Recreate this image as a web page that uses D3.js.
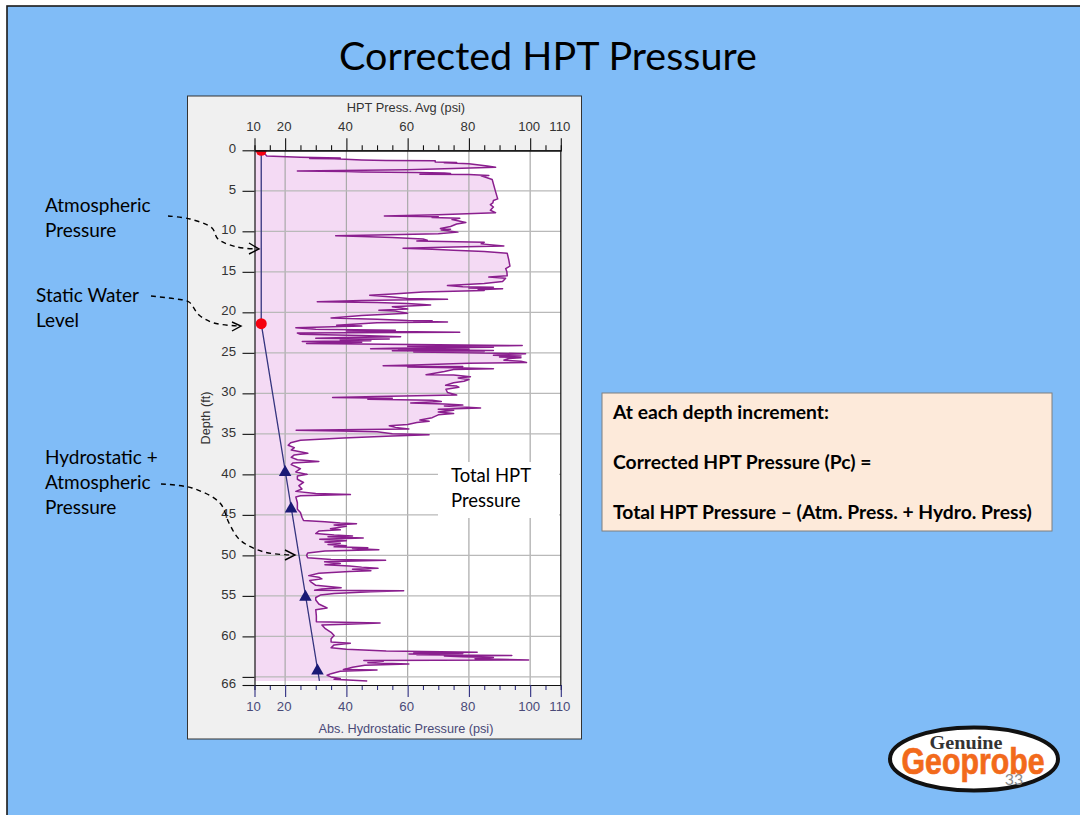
<!DOCTYPE html>
<html><head><meta charset="utf-8">
<script src="https://cdn.jsdelivr.net/npm/d3@7"></script>
<style>html,body{margin:0;padding:0;background:#fff}svg{display:block}</style>
</head><body><svg id="c" width="1080" height="815"></svg>
<script>
// [depth ft, HPT pressure psi]
const hptReadings=[[0,13],[0.5,13.5],[0.7,14],[0.85,25],[0.95,38],[1.02,28],[1.05,36],[1.2,45],[1.27,53],[1.3,69],[1.45,69],[1.5,76],[1.55,72],[1.65,80],[1.75,82],[1.95,86],[2.1,88.7],[2.25,75],[2.4,60],[2.55,24],[2.62,40],[2.68,45],[2.75,63],[2.8,72],[2.87,74],[2.95,64],[3.0,80],[3.1,86.5],[3.15,84],[3.6,87.6],[5.1,88.7],[6,89.4],[6.2,88],[6.5,87.8],[6.7,87],[7,88],[7.4,87],[7.7,88.7],[7.95,70],[8.1,52.4],[8.2,70],[8.3,68],[8.4,77],[8.55,74.5],[8.9,79],[9.1,76],[9.4,74],[9.65,70.7],[9.75,74],[9.85,71],[10.1,76.4],[10.3,70],[10.45,50],[10.55,36.5],[10.65,45],[10.75,55],[10.95,65],[11.1,66.4],[11.2,63],[11.35,85],[11.55,84],[11.8,91.4],[11.95,75],[12.1,58.5],[12.2,68],[12.35,75],[12.5,85],[12.7,92.5],[13.5,93],[14.3,93.4],[14.6,92],[15.0,92.4],[15.5,92.5],[15.65,86.5],[15.8,92],[16.2,91],[16.45,85],[16.7,73],[16.85,78],[16.9,88],[17.0,80],[17.1,91],[17.2,83],[17.3,85],[17.5,65],[17.75,55],[17.9,47.6],[18.1,55],[18.3,60],[18.4,73],[18.55,45],[18.7,30.5],[18.8,50],[18.9,60],[19.1,67.5],[19.3,55],[19.6,60],[19.75,50.6],[19.85,56],[20.1,60],[20.4,45],[20.7,35],[20.85,50],[21.0,60],[21.05,68],[21.1,62],[21.2,73],[21.3,50],[21.6,36.8],[21.7,45],[21.9,23.5],[22.1,30],[22.2,56],[22.3,40],[22.45,77],[22.55,24],[22.7,25],[22.85,45],[23.0,57.7],[23.1,40],[23.2,30],[23.25,45],[23.3,54],[23.4,38],[23.5,48],[23.6,25.6],[23.7,45],[23.85,27],[24.0,70],[24.1,97.4],[24.2,60],[24.3,88],[24.42,55],[24.5,47.9],[24.55,80],[24.6,57],[24.7,88],[24.75,55],[24.82,85],[24.9,62],[24.95,75],[25.1,98.5],[25.2,92],[25.3,88],[25.4,97],[25.5,90],[25.6,97],[25.7,93],[25.9,91.4],[26.05,97],[26.2,98.8],[26.3,80],[26.5,62],[26.6,52],[26.68,78],[26.75,60],[26.85,75],[26.95,88],[27.05,75],[27.3,72],[27.7,66],[27.75,75],[27.95,80.5],[28.1,76.5],[28.3,80],[28.5,78.4],[28.7,75],[29,72.4],[29.1,76],[29.25,76.7],[29.5,72.5],[29.9,73],[30.2,76],[30.4,50],[30.5,35.5],[30.6,55],[30.72,47],[30.85,68],[31.0,71],[31.2,61],[31.3,72],[31.45,78],[31.55,72],[31.8,83.8],[31.95,70],[32.1,75],[32.3,70],[32.5,75],[32.65,70],[33.0,68],[33.3,64],[33.45,67],[33.6,63],[33.85,60],[34.0,54],[34.2,56],[34.4,60.4],[34.55,23.6],[34.65,38],[34.75,50],[35.0,55],[35.1,67],[35.25,55],[35.5,39],[35.8,25],[36.1,21.8],[36.4,21],[36.7,23],[37.0,22],[37.4,27.4],[37.6,23],[37.9,22],[38.2,24],[38.4,31],[38.6,22.5],[38.8,22],[39.3,25],[39.7,23.5],[40,27.2],[40.2,24],[40.6,24],[41,26],[41.4,24.5],[41.8,25.5],[42.1,23.5],[42.35,30],[42.5,41.3],[42.65,25],[42.8,23.5],[43.5,24],[44.3,24],[44.7,25],[45.3,25.5],[45.7,26],[45.85,33],[46.0,38],[46.1,43.3],[46.25,36],[46.4,40],[46.7,34.8],[46.85,38],[47.0,31],[47.3,30],[47.5,36],[47.6,42],[47.7,34],[47.85,45.5],[48.0,31.3],[48.2,40],[48.35,33],[48.5,38],[48.65,34],[48.8,40],[48.95,36],[49.05,47],[49.15,42],[49.3,50.6],[49.45,33],[49.7,27.4],[50,27],[50.3,27.4],[50.5,35],[50.6,52.8],[50.8,32.9],[51,38],[51.15,33],[51.3,41],[51.45,45],[51.6,50.3],[51.72,42],[51.9,48],[52,41],[52.2,31],[52.5,27.7],[52.7,31],[52.9,32],[53.1,28],[53.3,28.5],[53.7,30],[54,38.3],[54.15,32],[54.3,29.6],[54.38,58.7],[54.5,48],[54.7,36],[54.9,31.5],[55.2,30],[55.5,30],[56,31],[56.5,33.7],[56.7,30],[57.5,30.2],[58.2,30.2],[58.35,51],[58.5,40],[58.6,32],[59,33],[59.5,35],[59.9,36],[60.3,35],[60.7,35],[60.85,41.3],[61.05,36],[61.4,35],[61.6,40],[61.8,53],[61.95,82.7],[62.05,62],[62.12,78],[62.18,60.4],[62.23,76],[62.28,63],[62.35,94],[62.42,72],[62.5,78],[62.6,88],[62.75,82],[62.9,99.5],[62.97,45.7],[63.08,52],[63.25,47],[63.4,60.4],[63.55,46],[63.8,42],[64.1,39],[64.15,50],[64.3,38],[64.6,35],[64.8,33.7],[65,35],[65.2,38],[65.3,36],[65.5,46.8]];
const gaugeDepths=[0,21.4,65.5];
const gaugePsi=[12.2,12.2,31.2];
const staticDepths=[0,21.4];
const triangleDepths=[39.5,44,54.9,64];
const majorTicks=[10,20,40,60,80,100,110];
const minorTicks=[15,25,30,35,45,50,55,65,70,75,85,90,95,105];
const depthTicks=[0,5,10,15,20,25,30,35,40,45,50,55,60,65,66];
const depthLabels=[0,5,10,15,20,25,30,35,40,45,50,55,60,66];
const gridPsi=[20,40,60,80,100];
const gridDepth=[5,10,15,20,25,30,35,40,45,50,55,60,65];

const svg=d3.select("#c");
const x=d3.scaleLinear().domain([10,110]).range([254.5,560.8]);
const y=d3.scaleLinear().domain([0,66]).range([150.3,685]);
const slideFont="Lato, 'Open Sans', sans-serif", chartFont="'Liberation Sans', Arial, sans-serif";

// slide
svg.append("rect").attr("width",1080).attr("height",815).attr("fill","#fff");
svg.append("rect").attr("x",7).attr("y",6).attr("width",1080).attr("height",815).attr("fill","#80bcf7").attr("stroke","#1a1a1a").attr("stroke-width",1.6);
svg.append("text").attr("x",548).attr("y",70).attr("text-anchor","middle").attr("font-family",slideFont).attr("font-size",39.5).attr("fill","#000").text("Corrected HPT Pressure");

// panel
svg.append("rect").attr("x",187.5).attr("y",96).attr("width",394).attr("height",643).attr("fill","#f0f0f0").attr("stroke","#333");
svg.append("rect").attr("x",x(10)).attr("y",y(0)).attr("width",x(110)-x(10)).attr("height",y(66)-y(0)).attr("fill","#fff");
svg.append("clipPath").attr("id","plot").append("rect").attr("x",x(10)).attr("y",y(0)).attr("width",x(110)-x(10)).attr("height",y(66)-y(0));
const plot=svg.append("g").attr("clip-path","url(#plot)");

// fill
plot.append("path").datum(hptReadings).attr("fill","#f4daf4")
 .attr("d",d3.area().x0(x(10)).x1(d=>x(d[1])).y(d=>y(d[0])));
// grid
plot.selectAll(".gv").data(gridPsi).join("line").attr("x1",d=>x(d)).attr("x2",d=>x(d)).attr("y1",y(0)).attr("y2",y(66)).attr("stroke","#a9a9a9").attr("stroke-width",1.2);
plot.selectAll(".gh").data(gridDepth).join("line").attr("x1",x(10)).attr("x2",x(110)).attr("y1",d=>y(d)).attr("y2",d=>y(d)).attr("stroke","#b9b9b9").attr("stroke-width",1.3);
// curve
plot.append("path").datum(hptReadings).attr("fill","none").attr("stroke","#8a1f8e").attr("stroke-width",1.5).attr("stroke-linejoin","round")
 .attr("d",d3.line().x(d=>x(d[1])).y(d=>y(d[0])));
// hydrostatic line
plot.append("path").datum(gaugeDepths).attr("fill","none").attr("stroke","#35357f").attr("stroke-width",1.3)
 .attr("d",d3.line().x((d,i)=>x(gaugePsi[i])).y(d=>y(d)));
const psiAt=d3.scaleLinear().domain(gaugeDepths.slice(1)).range(gaugePsi.slice(1));
plot.selectAll(".tri").data(triangleDepths).join("path").attr("fill","#1a1a75")
 .attr("d",d3.symbol(d3.symbolTriangle,68)).attr("transform",d=>`translate(${x(psiAt(d))},${y(d)+2})`);
plot.selectAll(".dot").data(staticDepths).join("circle").attr("cx",x(gaugePsi[0])).attr("cy",d=>y(d)).attr("r",5.5).attr("fill","#f5000f");

// axes
function style(g,col,textCol,size){g.select(".domain").attr("stroke","#111").attr("stroke-width",1.2);g.selectAll("line").attr("stroke",col).attr("stroke-width",1.1);g.selectAll("text").attr("fill",textCol).attr("font-family",chartFont).attr("font-size",size);}
function xAxis(maker,yp,col,textCol,pad){
 const g=svg.append("g").attr("transform",`translate(0,${yp})`);
 g.append("g").call(maker(x).tickValues(minorTicks).tickSize(5).tickFormat("")).call(s=>style(s,col,textCol,12));
 g.append("g").call(maker(x).tickValues(majorTicks).tickSize(12).tickSizeOuter(0).tickPadding(pad).tickFormat(d3.format("d"))).call(s=>style(s,col,textCol,13.2));
 g.selectAll("text").attr("dx",-1.5);
}
xAxis(d3.axisTop,y(0),"#111","#333",7);
xAxis(d3.axisBottom,y(66),"#2e2e80","#4a4a78",5);
const da=svg.append("g").attr("transform",`translate(${x(10)},0)`)
 .call(d3.axisLeft(y).tickValues(depthTicks).tickSize(12).tickSizeOuter(0).tickPadding(6.5).tickFormat(d=>depthLabels.includes(d)?d:""));
style(da,"#111","#333",13.2);
da.selectAll("text").attr("dy","0.2em");
svg.append("line").attr("x1",x(110)).attr("x2",x(110)).attr("y1",y(0)).attr("y2",y(66)).attr("stroke","#111").attr("stroke-width",1.2);
svg.append("text").attr("x",406).attr("y",112).attr("text-anchor","middle").attr("font-family",chartFont).attr("font-size",12.8).attr("fill","#333").text("HPT Press. Avg (psi)");
svg.append("text").attr("x",406).attr("y",733).attr("text-anchor","middle").attr("font-family",chartFont).attr("font-size",12.7).attr("fill","#4a4a78").text("Abs. Hydrostatic Pressure (psi)");
svg.append("text").attr("transform","translate(210,418) rotate(-90)").attr("text-anchor","middle").attr("font-family",chartFont).attr("font-size",12.7).attr("fill","#333").text("Depth (ft)");

// annotation
function lines(xp,ys,arr,size){svg.selectAll(null).data(arr).join("text").attr("x",xp).attr("y",(d,i)=>ys+i*25).attr("font-family",slideFont).attr("font-size",size||19).attr("fill","#000").text(d=>d);}
lines(45,212,["Atmospheric","Pressure"]);
lines(36,302,["Static Water","Level"]);
lines(45,464,["Hydrostatic +","Atmospheric","Pressure"]);
svg.append("rect").attr("x",438).attr("y",462).attr("width",121).attr("height",56).attr("fill","#fff");
lines(451,482,["Total HPT","Pressure"],18.5);

const curve=d3.line().curve(d3.curveCatmullRom);
const arrows=[
 {p:[[168,216],[190,219],[212,228],[218,239],[237,247],[257,249]],h:[[249,243],[259,249],[249,254]]},
 {p:[[151,296],[176,299],[189,302],[199,315],[214,323],[239,326]],h:[[232,322],[241,326],[232,331]]},
 {p:[[161,484],[192,488],[220,503],[229,523],[240,540],[264,552],[293,555]],h:[[285,550],[295,555],[285,560]]}
];
arrows.forEach(a=>{
 svg.append("path").attr("d",curve(a.p)).attr("fill","none").attr("stroke","#000").attr("stroke-width",1.4).attr("stroke-dasharray","5 4");
 svg.append("path").attr("d",d3.line()(a.h)).attr("fill","none").attr("stroke","#000").attr("stroke-width",1.4);
});

// note box
svg.append("rect").attr("x",602).attr("y",393).attr("width",450).attr("height",138).attr("fill","#fdeada").attr("stroke","#7f7f7f");
const note=["At each depth increment:","Corrected HPT Pressure (Pc) =","Total HPT Pressure – (Atm. Press. + Hydro. Press)"];
svg.selectAll(null).data(note).join("text").attr("x",613).attr("y",(d,i)=>419+i*50).attr("font-family",slideFont).attr("font-size",19.3).attr("font-weight",700).attr("fill","#000").text(d=>d);

// logo
svg.append("ellipse").attr("cx",974).attr("cy",759).attr("rx",84).attr("ry",31.5).attr("fill","#fff").attr("stroke","#111").attr("stroke-width",4);
svg.append("text").attr("x",966).attr("y",749).attr("text-anchor","middle").attr("font-family","'Liberation Serif',serif").attr("font-weight",700).attr("font-size",19).attr("fill","#333").attr("textLength",73).attr("lengthAdjust","spacingAndGlyphs").text("Genuine");
svg.append("text").attr("x",973).attr("y",774).attr("text-anchor","middle").attr("font-family","'Liberation Sans',sans-serif").attr("font-weight",700).attr("font-size",36).attr("fill","#f26a1b").attr("stroke","#f26a1b").attr("stroke-width",0.7).attr("textLength",143).attr("lengthAdjust","spacingAndGlyphs").text("Geoprobe");
svg.append("text").attr("x",1014).attr("y",785).attr("text-anchor","middle").attr("font-family",slideFont).attr("font-size",16).attr("fill","#8a8a8a").text("33");
</script></body></html>
